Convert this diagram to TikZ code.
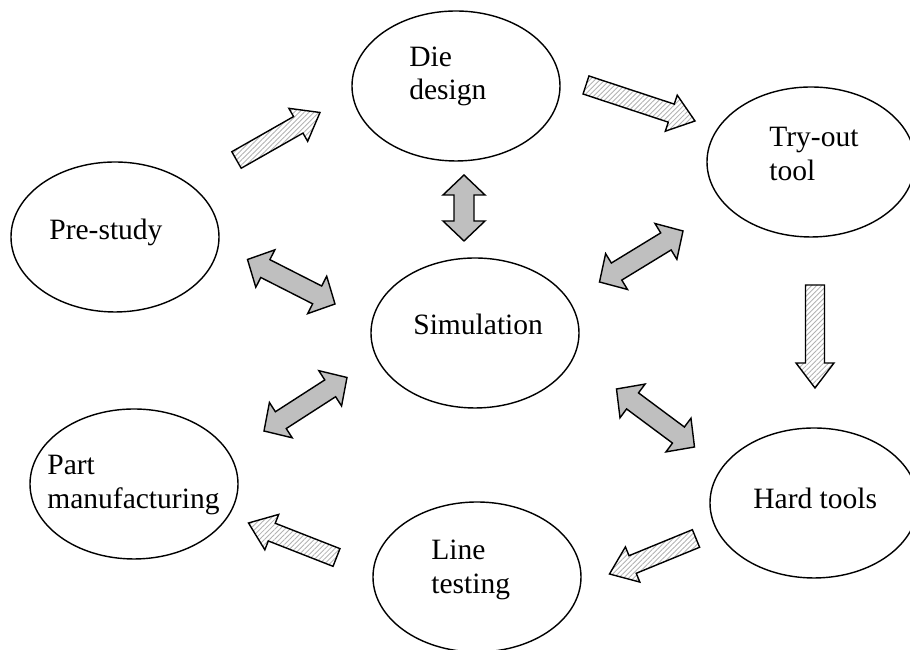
\documentclass[tikz,border=0pt]{standalone}
\usepackage{fontspec}
\setmainfont{Liberation Serif}
\usetikzlibrary{calc,shapes.geometric,patterns.meta}

% freccia piena tratteggiata (da #1 a #2)
\newcommand{\singlearrow}[2]{%
  \coordinate (hb) at ($(#2)!0.5cm!(#1)$);
  \filldraw[hatched] ($(#1)!0.19cm!90:(#2)$) -- ($(hb)!0.19cm!90:(#2)$) -- ($(hb)!0.38cm!90:(#2)$) -- (#2)
    -- ($(hb)!0.38cm!-90:(#2)$) -- ($(hb)!0.19cm!-90:(#2)$) -- ($(#1)!0.19cm!-90:(#2)$) -- cycle;
}
% freccia doppia grigia (tra #1 e #2)
\newcommand{\doublearrow}[2]{%
  \coordinate (ha) at ($(#1)!0.4cm!(#2)$);
  \coordinate (hb) at ($(#2)!0.4cm!(#1)$);
  \filldraw[greyarrow] (#1) -- ($(ha)!0.42cm!90:(#2)$) -- ($(ha)!0.2cm!90:(#2)$) -- ($(hb)!0.2cm!90:(#2)$)
    -- ($(hb)!0.42cm!90:(#2)$) -- (#2) -- ($(hb)!0.42cm!-90:(#2)$) -- ($(hb)!0.2cm!-90:(#2)$)
    -- ($(ha)!0.2cm!-90:(#2)$) -- ($(ha)!0.42cm!-90:(#2)$) -- cycle;
}

\begin{document}
\begin{tikzpicture}[
    stage/.style={draw, ellipse, line width=0.8pt, minimum width=4.16cm, minimum height=3cm, inner sep=0pt},
    txt/.style={anchor=base west, align=left, inner sep=0pt, font=\fontsize{16.8}{19.3}\selectfont},
    hatched/.style={draw, line width=0.8pt, pattern={Lines[angle=45,distance=2pt,line width=0.5pt]}, pattern color=gray!60},
    greyarrow/.style={draw, line width=0.8pt, fill=black!25}
  ]
    \useasboundingbox (0,0) rectangle (18.2,13);

    % Ellissi
    \node[stage] (D) at (9.12,11.28) {};
    \node[stage] (T) at (16.22,9.76) {};
    \node[stage] (P) at (2.30,8.26) {};
    \node[stage] (S) at (9.50,6.34) {};
    \node[stage] (M) at (2.68,3.32) {};
    \node[stage] (H) at (16.28,2.94) {};
    \node[stage] (L) at (9.54,1.46) {};

    % Testi
    \node[txt] (Dt) at ($(D)+(-0.94,-0.28)$) {Die\\design};
    \node[txt] (Tt) at ($(T)+(-0.84,-0.37)$) {Try-out\\tool};
    \node[txt] (Pt) at ($(P)+(-1.32,-0.06)$) {Pre-study};
    \node[txt] (St) at ($(S)+(-1.24,-0.04)$) {Simulation};
    \node[txt] (Mt) at ($(M)+(-1.74,-0.49)$) {Part\\manufacturing};
    \node[txt] (Ht) at ($(H)+(-1.22,-0.12)$) {Hard tools};
    \node[txt] (Lt) at ($(L)+(-0.92,-0.33)$) {Line\\testing};

    % Estremi delle frecce
    \coordinate (h1a) at (4.73,9.80);   \coordinate (h1b) at (6.40,10.75);
    \coordinate (h2a) at (11.72,11.30); \coordinate (h2b) at (13.90,10.58);
    \coordinate (h3a) at (16.30,7.30);  \coordinate (h3b) at (16.30,5.24);
    \coordinate (h4a) at (13.92,2.23);  \coordinate (h4b) at (12.19,1.52);
    \coordinate (h5a) at (6.73,1.85);   \coordinate (h5b) at (4.97,2.54);
    \coordinate (g1a) at (9.28,9.50);   \coordinate (g1b) at (9.28,8.18);
    \coordinate (g2a) at (4.95,7.81);   \coordinate (g2b) at (6.70,6.92);
    \coordinate (g3a) at (11.99,7.36);  \coordinate (g3b) at (13.66,8.38);
    \coordinate (g4a) at (6.94,5.45);   \coordinate (g4b) at (5.28,4.38);
    \coordinate (g5a) at (12.33,5.22);  \coordinate (g5b) at (13.89,4.06);

    % Frecce
    \singlearrow{h1a}{h1b}
    \singlearrow{h2a}{h2b}
    \singlearrow{h3a}{h3b}
    \singlearrow{h4a}{h4b}
    \singlearrow{h5a}{h5b}
    \doublearrow{g1a}{g1b}
    \doublearrow{g2a}{g2b}
    \doublearrow{g3a}{g3b}
    \doublearrow{g4a}{g4b}
    \doublearrow{g5a}{g5b}
  \end{tikzpicture}
\end{document}
